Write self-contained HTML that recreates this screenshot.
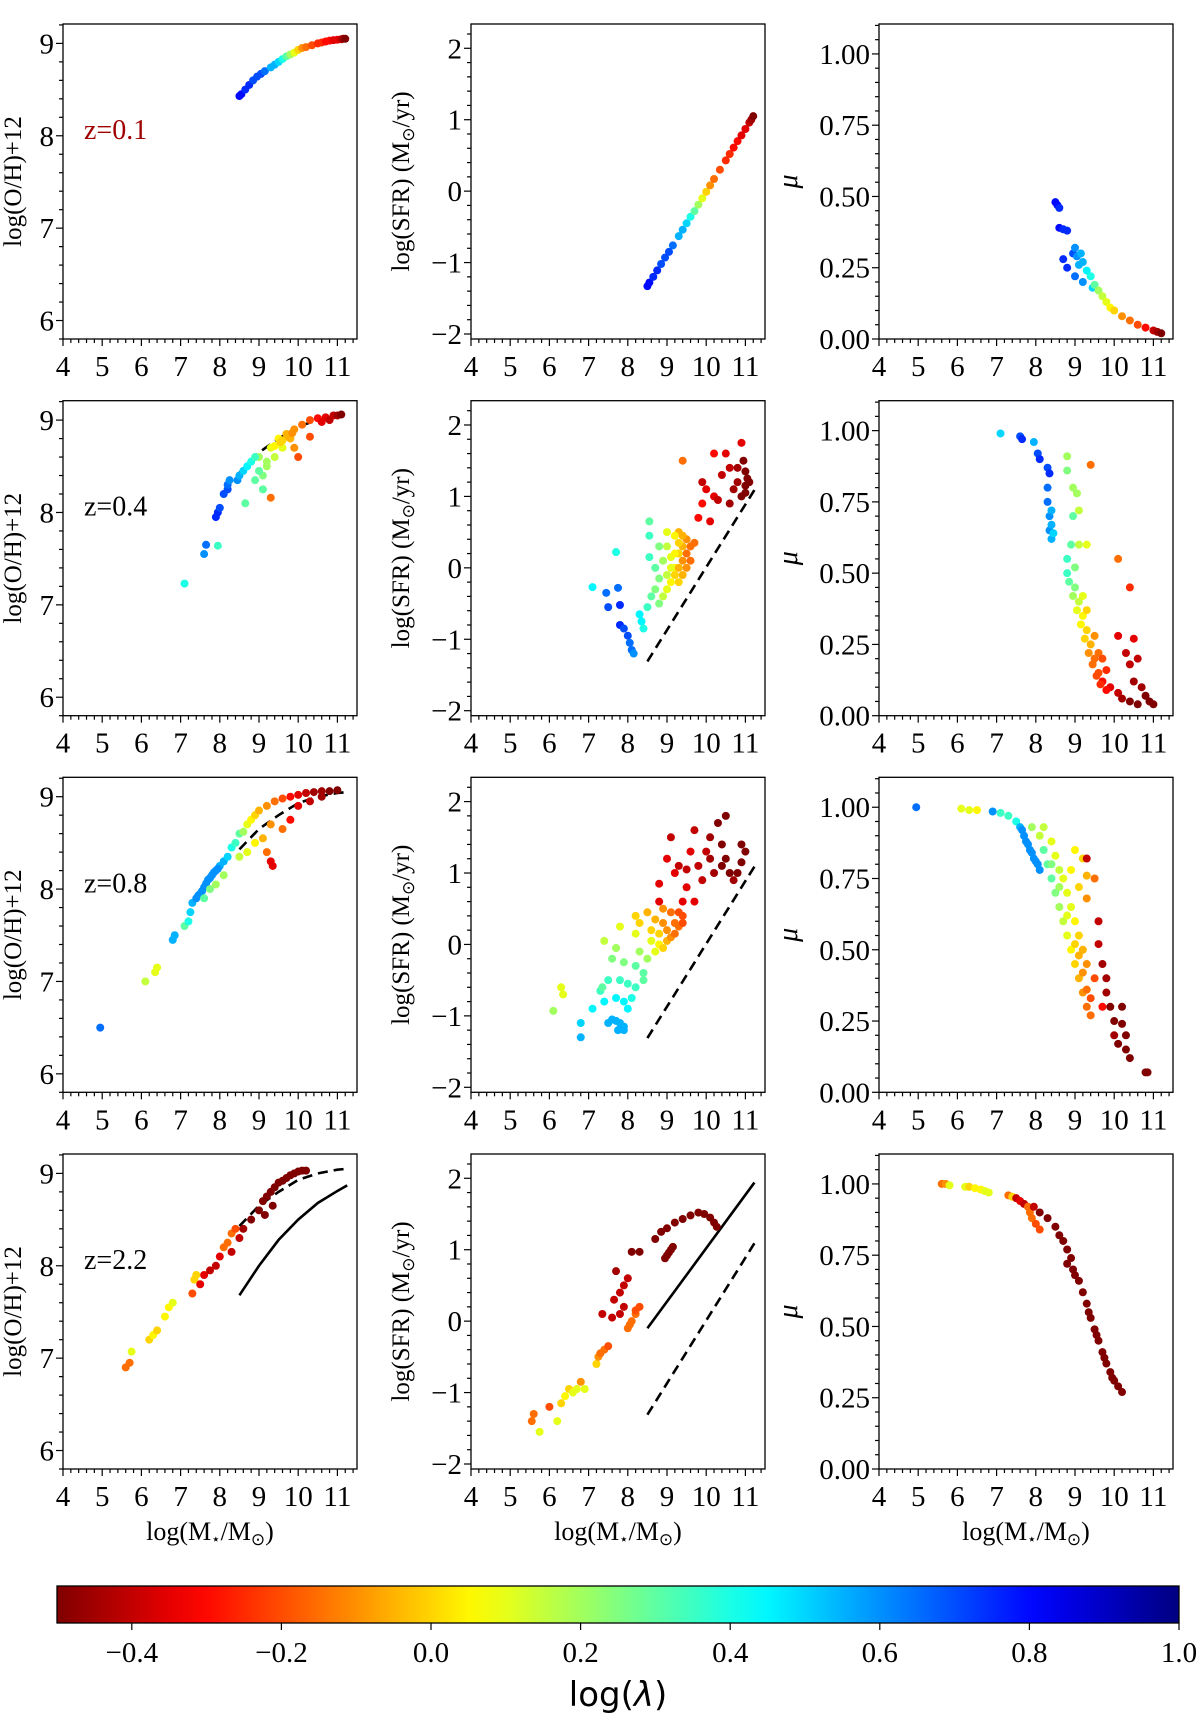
<!DOCTYPE html>
<html><head><meta charset="utf-8"><style>
html,body{margin:0;padding:0;background:#fff;}
svg{display:block;}
text{font-family:"Liberation Serif",serif;fill:#000;}
</style></head><body>
<svg id="fig" width="1200" height="1724" viewBox="0 0 1200 1724" xmlns="http://www.w3.org/2000/svg"></svg>
<script>
// ---- data: [logMass, value, logLambda] ----
const oh_z01=[[8.5,8.43,0.8],[8.55,8.45,0.8],[8.65,8.5,0.75],[8.75,8.55,0.75],[8.85,8.6,0.7],[8.95,8.64,0.7],[9.05,8.67,0.7],[9.15,8.7,0.65],[9.3,8.74,0.55],[9.4,8.77,0.55],[9.5,8.8,0.5],[9.6,8.83,0.4],[9.7,8.86,0.3],[9.8,8.88,0.2],[9.9,8.9,0.1],[10.0,8.93,0.0],[10.1,8.95,-0.1],[10.2,8.96,-0.15],[10.35,8.98,-0.2],[10.5,9.0,-0.25],[10.6,9.01,-0.25],[10.7,9.02,-0.3],[10.8,9.03,-0.3],[10.9,9.035,-0.35],[11.0,9.04,-0.35],[11.1,9.045,-0.4],[11.15,9.05,-0.45],[11.2,9.05,-0.5]];
const sfr_z01=[[8.5,-1.33,0.8],[8.55,-1.28,0.8],[8.65,-1.2,0.75],[8.75,-1.11,0.75],[8.85,-1.02,0.7],[8.95,-0.93,0.7],[9.05,-0.85,0.7],[9.15,-0.76,0.65],[9.3,-0.63,0.55],[9.4,-0.54,0.55],[9.5,-0.45,0.5],[9.6,-0.36,0.4],[9.7,-0.28,0.3],[9.8,-0.19,0.2],[9.9,-0.1,0.1],[10.0,-0.01,0.0],[10.1,0.08,-0.1],[10.2,0.17,-0.15],[10.35,0.3,-0.2],[10.5,0.43,-0.25],[10.6,0.52,-0.25],[10.7,0.61,-0.3],[10.8,0.7,-0.3],[10.9,0.78,-0.35],[11.0,0.87,-0.35],[11.1,0.96,-0.4],[11.15,1.0,-0.45],[11.2,1.05,-0.5]];
const mu_z01=[[8.5,0.48,0.8],[8.55,0.47,0.8],[8.6,0.46,0.75],[8.6,0.39,0.8],[8.7,0.385,0.75],[8.8,0.38,0.75],[8.7,0.28,0.75],[8.8,0.25,0.75],[8.95,0.3,0.7],[9.0,0.32,0.6],[9.05,0.29,0.6],[9.1,0.26,0.55],[9.15,0.3,0.55],[9.2,0.27,0.55],[9.3,0.24,0.45],[9.4,0.22,0.4],[9.45,0.18,0.5],[9.5,0.19,0.3],[9.6,0.17,0.2],[9.7,0.15,0.15],[9.8,0.13,0.1],[9.9,0.11,0.05],[10.0,0.1,0.0],[10.2,0.08,-0.1],[10.4,0.065,-0.15],[10.6,0.05,-0.2],[10.8,0.04,-0.3],[11.0,0.03,-0.4],[11.1,0.025,-0.45],[11.2,0.02,-0.5],[9.0,0.22,0.65],[9.2,0.2,0.6]];

const oh_z04=[[7.1,7.23,0.4],[7.6,7.55,0.6],[7.65,7.65,0.65],[7.95,7.64,0.35],[7.9,7.95,0.75],[7.95,8.0,0.75],[8.0,8.05,0.7],[8.1,8.2,0.7],[8.2,8.25,0.7],[8.2,8.3,0.65],[8.25,8.35,0.6],[8.45,8.35,0.6],[8.5,8.4,0.55],[8.6,8.45,0.5],[8.65,8.1,0.3],[8.7,8.5,0.45],[8.8,8.55,0.4],[8.9,8.35,0.3],[9.0,8.6,0.2],[9.1,8.4,0.25],[9.2,8.5,0.2],[9.3,8.7,0.1],[9.3,8.16,-0.15],[9.5,8.8,0.05],[9.7,8.85,-0.05],[9.9,8.9,-0.1],[10.1,8.95,-0.15],[10.3,9.0,-0.2],[10.5,9.02,-0.3],[10.7,9.03,-0.35],[10.9,9.05,-0.4],[11.0,9.05,-0.45],[11.1,9.06,-0.5],[9.6,8.7,0.1],[9.4,8.6,0.15],[9.9,8.7,-0.1],[10.0,8.6,-0.2],[10.3,8.82,-0.2],[9.2,8.55,0.2],[9.0,8.45,0.3],[8.9,8.6,0.35],[9.1,8.25,0.3],[9.6,8.78,0.0],[9.8,8.8,-0.05],[10.6,8.98,-0.35],[10.8,9.0,-0.4],[9.4,8.72,0.05],[9.55,8.76,0.0],[9.75,8.82,-0.05],[9.85,8.86,-0.1]];
const sfr_z04=[[7.1,-0.27,0.45],[7.45,-0.35,0.65],[7.5,-0.55,0.7],[7.75,-0.28,0.65],[7.8,-0.52,0.75],[7.8,-0.8,0.75],[7.9,-0.85,0.7],[8.0,-0.95,0.7],[8.05,-1.05,0.65],[8.1,-1.15,0.65],[8.15,-1.2,0.6],[7.7,0.22,0.4],[8.3,-0.65,0.45],[8.35,-0.75,0.45],[8.4,-0.85,0.4],[8.5,-0.55,0.35],[8.6,-0.4,0.3],[8.55,0.45,0.35],[8.55,0.65,0.3],[8.55,0.15,0.35],[8.7,0.0,0.3],[8.8,-0.15,0.25],[8.9,0.1,0.2],[9.0,0.3,0.15],[9.1,0.15,0.1],[9.2,0.0,0.05],[9.3,0.2,0.0],[9.4,0.3,-0.05],[9.5,0.4,-0.1],[9.3,0.5,-0.05],[8.9,-0.4,0.15],[9.0,-0.3,0.1],[9.1,-0.2,0.05],[9.2,-0.1,0.0],[9.3,0.0,-0.05],[9.4,0.1,-0.1],[9.5,0.2,-0.15],[9.6,0.3,-0.15],[8.8,0.3,0.25],[9.0,0.5,0.1],[9.2,0.45,0.05],[8.7,-0.3,0.25],[8.8,-0.5,0.25],[9.0,-0.1,0.15],[9.1,0.0,0.1],[9.2,0.2,0.05],[9.3,0.35,0.0],[9.4,0.45,-0.05],[9.5,0.0,-0.1],[9.6,0.1,-0.15],[9.7,0.35,-0.15],[9.4,-0.1,-0.05],[9.3,-0.2,0.0],[9.4,1.5,-0.15],[9.8,0.7,-0.3],[9.9,0.9,-0.3],[10.0,1.1,-0.35],[10.2,1.0,-0.35],[10.4,1.3,-0.4],[10.5,1.6,-0.35],[10.6,1.4,-0.4],[10.8,1.2,-0.45],[10.9,1.0,-0.5],[11.0,1.35,-0.5],[11.1,1.2,-0.5],[10.9,1.75,-0.35],[10.2,1.6,-0.3],[9.9,1.2,-0.4],[10.3,0.95,-0.4],[10.6,0.9,-0.45],[11.0,1.05,-0.5],[10.1,0.65,-0.35],[10.95,1.5,-0.5],[11.05,1.25,-0.5],[10.7,1.1,-0.45],[10.8,1.4,-0.45],[11.0,1.15,-0.5]];
const mu_z04=[[7.1,0.99,0.5],[7.6,0.98,0.7],[7.65,0.97,0.75],[7.95,0.96,0.55],[8.05,0.92,0.7],[8.1,0.9,0.75],[8.3,0.87,0.7],[8.35,0.85,0.75],[8.3,0.8,0.65],[8.3,0.75,0.65],[8.35,0.7,0.6],[8.35,0.65,0.6],[8.4,0.62,0.55],[8.4,0.67,0.55],[8.8,0.91,0.2],[8.8,0.86,0.25],[8.95,0.8,0.2],[9.05,0.78,0.2],[9.1,0.72,0.15],[8.95,0.7,0.3],[9.4,0.88,-0.15],[9.1,0.6,0.15],[9.3,0.6,0.1],[8.8,0.55,0.35],[8.8,0.5,0.35],[9.0,0.45,0.25],[9.1,0.4,0.15],[9.2,0.35,0.05],[9.3,0.3,0.0],[9.4,0.25,-0.05],[9.5,0.2,-0.15],[9.6,0.15,-0.2],[9.7,0.12,-0.3],[9.9,0.1,-0.35],[10.1,0.08,-0.4],[10.2,0.06,-0.45],[10.4,0.05,-0.5],[10.6,0.04,-0.5],[10.1,0.55,-0.15],[10.1,0.28,-0.35],[10.3,0.22,-0.4],[10.4,0.18,-0.4],[10.5,0.27,-0.35],[10.6,0.2,-0.4],[10.5,0.12,-0.45],[10.7,0.1,-0.45],[10.8,0.07,-0.5],[10.9,0.05,-0.5],[11.0,0.04,-0.5],[10.4,0.45,-0.25],[8.9,0.6,0.3],[9.0,0.52,0.25],[9.2,0.42,0.1],[9.3,0.37,0.0],[9.5,0.28,-0.1],[9.6,0.22,-0.15],[8.85,0.47,0.3],[8.95,0.42,0.2],[9.05,0.37,0.1],[9.15,0.32,0.05],[9.25,0.27,0.0],[9.35,0.22,-0.1],[9.45,0.18,-0.15],[9.55,0.14,-0.2],[9.65,0.11,-0.25],[9.8,0.09,-0.3],[9.7,0.2,-0.2],[9.8,0.16,-0.25],[8.4,0.72,0.55],[8.45,0.64,0.5]];

const oh_z08=[[4.95,6.5,0.65],[6.1,7.0,0.15],[6.35,7.1,0.1],[6.4,7.15,0.1],[6.8,7.45,0.55],[6.85,7.5,0.55],[7.1,7.6,0.3],[7.2,7.65,0.4],[7.25,7.75,0.5],[7.3,7.85,0.55],[7.4,7.9,0.6],[7.5,7.95,0.6],[7.6,8.02,0.6],[7.7,8.1,0.6],[7.8,8.15,0.6],[7.9,8.2,0.6],[8.0,8.25,0.55],[8.1,8.3,0.55],[8.2,8.35,0.5],[7.45,7.93,0.6],[7.55,7.98,0.6],[7.65,8.06,0.6],[7.75,8.12,0.6],[7.85,8.18,0.6],[7.95,8.22,0.6],[7.6,7.9,0.3],[7.75,8.0,0.25],[7.9,8.05,0.2],[8.1,8.15,0.2],[8.3,8.45,0.4],[8.4,8.5,0.35],[8.5,8.6,0.3],[8.6,8.62,0.2],[8.7,8.7,0.1],[8.8,8.75,0.05],[8.9,8.8,0.0],[9.0,8.85,-0.05],[9.2,8.9,-0.1],[9.4,8.95,-0.15],[9.6,8.98,-0.2],[9.8,9.0,-0.3],[10.0,9.02,-0.35],[10.2,9.04,-0.4],[10.4,9.05,-0.45],[10.6,9.06,-0.45],[10.8,9.06,-0.5],[11.0,9.07,-0.5],[8.5,8.35,0.15],[8.7,8.4,0.1],[8.9,8.5,0.05],[9.1,8.55,-0.05],[9.2,8.4,-0.15],[9.3,8.3,-0.35],[9.35,8.25,-0.35],[9.6,8.65,-0.15],[9.8,8.75,-0.3],[10.0,8.9,-0.35],[10.3,8.95,-0.4],[10.6,9.0,-0.45],[9.3,8.7,-0.1]];
const sfr_z08=[[6.3,-0.6,0.1],[6.35,-0.7,0.1],[6.1,-0.93,0.2],[6.8,-1.3,0.55],[6.8,-1.1,0.5],[7.1,-0.9,0.45],[7.3,-0.65,0.35],[7.35,-0.6,0.3],[7.5,-1.1,0.55],[7.6,-1.05,0.55],[7.7,-1.07,0.55],[7.8,-1.1,0.55],[7.9,-1.15,0.55],[7.75,-1.2,0.55],[7.9,-1.2,0.55],[7.4,-0.8,0.45],[7.7,-0.75,0.45],[7.9,-0.8,0.45],[8.0,-0.9,0.45],[7.5,-0.5,0.35],[7.8,-0.5,0.35],[8.0,-0.55,0.35],[8.2,-0.6,0.35],[7.6,-0.2,0.25],[7.9,-0.25,0.25],[8.2,-0.3,0.3],[8.4,-0.4,0.3],[7.4,0.05,0.15],[7.7,-0.05,0.2],[8.3,-0.1,0.2],[8.5,-0.2,0.2],[7.8,0.25,0.1],[8.2,0.15,0.1],[8.6,0.05,0.1],[8.8,0.0,0.05],[8.2,0.4,0.0],[8.5,0.45,-0.05],[8.7,0.35,-0.05],[8.9,0.3,-0.1],[9.0,0.2,-0.1],[8.6,0.2,0.0],[9.1,0.45,-0.15],[9.3,0.45,-0.2],[9.4,0.4,-0.2],[8.9,0.5,-0.1],[9.2,0.3,-0.15],[8.8,0.15,0.0],[9.0,0.05,-0.05],[9.1,0.1,-0.1],[9.2,0.15,-0.15],[9.3,0.25,-0.15],[8.9,-0.05,0.0],[8.7,-0.1,0.1],[8.4,-0.5,0.3],[8.1,-0.75,0.4],[8.3,0.3,0.0],[9.4,0.3,-0.2],[8.8,0.6,-0.35],[8.8,0.85,-0.35],[9.0,1.2,-0.35],[9.1,1.5,-0.4],[9.2,1.0,-0.35],[9.5,0.8,-0.35],[9.5,1.05,-0.4],[9.6,1.3,-0.35],[9.7,0.6,-0.35],[9.7,1.6,-0.4],[9.8,1.1,-0.4],[9.9,0.9,-0.4],[10.0,1.3,-0.4],[10.1,1.5,-0.45],[10.1,1.2,-0.45],[10.2,1.0,-0.45],[10.3,1.7,-0.5],[10.4,1.4,-0.5],[10.4,1.1,-0.5],[10.5,1.8,-0.5],[10.5,1.2,-0.5],[10.6,1.0,-0.5],[10.9,1.4,-0.5],[11.0,1.3,-0.5],[10.9,1.15,-0.5],[10.8,1.0,-0.5],[10.7,0.9,-0.45],[9.3,1.1,-0.4],[9.4,0.6,-0.35]];
const mu_z08=[[4.95,1.0,0.65],[6.1,0.995,0.1],[6.3,0.99,0.1],[6.5,0.99,0.05],[6.9,0.985,0.6],[7.1,0.98,0.35],[7.3,0.97,0.35],[7.5,0.95,0.4],[7.6,0.93,0.55],[7.7,0.9,0.6],[7.8,0.87,0.6],[7.9,0.84,0.6],[8.0,0.81,0.6],[8.1,0.78,0.6],[7.65,0.92,0.6],[7.75,0.88,0.6],[7.85,0.85,0.6],[7.95,0.82,0.6],[8.05,0.8,0.6],[7.9,0.93,0.2],[8.1,0.9,0.15],[8.2,0.85,0.3],[8.3,0.8,0.3],[8.4,0.75,0.3],[8.2,0.93,0.15],[8.4,0.88,0.1],[8.5,0.83,0.1],[8.6,0.78,0.15],[8.5,0.7,0.25],[8.6,0.65,0.2],[8.7,0.6,0.15],[8.8,0.55,0.1],[8.9,0.5,0.05],[9.0,0.45,0.0],[9.1,0.4,-0.05],[9.2,0.35,-0.1],[9.3,0.3,-0.15],[9.4,0.27,-0.15],[8.8,0.7,0.1],[8.9,0.65,0.1],[9.0,0.6,0.05],[9.1,0.55,0.0],[9.2,0.5,-0.05],[9.3,0.45,-0.1],[8.7,0.75,0.1],[8.9,0.78,0.05],[9.1,0.72,0.0],[9.3,0.68,-0.1],[9.0,0.85,0.05],[9.2,0.82,0.0],[9.3,0.76,-0.05],[8.4,0.8,0.25],[8.6,0.72,0.2],[8.8,0.62,0.1],[9.0,0.52,0.0],[9.2,0.42,-0.1],[9.3,0.36,-0.15],[9.1,0.48,-0.05],[9.4,0.33,-0.2],[9.3,0.82,-0.4],[9.5,0.75,-0.15],[9.6,0.6,-0.4],[9.6,0.52,-0.4],[9.7,0.45,-0.45],[9.8,0.4,-0.45],[9.8,0.35,-0.45],[9.9,0.3,-0.5],[10.0,0.25,-0.5],[10.0,0.2,-0.45],[10.1,0.17,-0.5],[10.2,0.3,-0.5],[10.2,0.24,-0.5],[10.3,0.2,-0.5],[10.3,0.15,-0.5],[10.4,0.12,-0.5],[10.8,0.07,-0.5],[10.85,0.07,-0.5],[9.7,0.3,-0.3],[9.5,0.4,-0.2]];

const oh_z22=[[5.6,6.9,-0.15],[5.7,6.95,-0.15],[5.75,7.07,0.1],[6.2,7.2,0.0],[6.3,7.25,0.05],[6.4,7.3,0.0],[6.6,7.45,0.05],[6.7,7.55,0.05],[6.8,7.6,0.1],[7.3,7.7,-0.2],[7.35,7.85,0.0],[7.4,7.9,0.0],[7.5,7.8,-0.35],[7.6,7.9,-0.35],[7.75,7.95,-0.4],[7.9,8.0,-0.4],[8.0,8.1,-0.35],[8.1,8.2,-0.15],[8.2,8.25,-0.15],[8.3,8.35,-0.15],[8.4,8.4,-0.2],[8.3,8.15,-0.4],[8.5,8.3,-0.4],[8.6,8.4,-0.45],[8.8,8.5,-0.5],[9.0,8.6,-0.5],[9.1,8.7,-0.5],[9.2,8.75,-0.5],[9.3,8.8,-0.5],[9.4,8.85,-0.5],[9.5,8.9,-0.5],[9.6,8.92,-0.5],[9.7,8.95,-0.5],[9.8,8.98,-0.5],[9.9,9.0,-0.5],[10.0,9.02,-0.5],[10.1,9.03,-0.5],[10.2,9.03,-0.5],[9.35,8.65,-0.5],[9.15,8.55,-0.5]];
const sfr_z22=[[5.55,-1.4,-0.15],[5.6,-1.3,-0.15],[5.75,-1.55,0.1],[6.0,-1.2,-0.2],[6.2,-1.4,0.1],[6.3,-1.15,0.0],[6.4,-1.05,0.05],[6.5,-0.95,0.0],[6.6,-1.0,0.1],[6.7,-0.95,0.1],[6.9,-0.95,0.1],[6.8,-0.85,-0.1],[7.2,-0.6,0.0],[7.25,-0.5,-0.1],[7.4,-0.4,-0.15],[7.3,-0.45,-0.15],[7.5,-0.35,-0.2],[7.35,0.1,-0.4],[7.6,0.05,-0.4],[7.8,0.1,-0.4],[7.9,0.2,-0.4],[7.65,0.3,-0.4],[7.8,0.4,-0.4],[7.9,0.5,-0.4],[8.0,0.6,-0.4],[7.7,0.7,-0.45],[8.0,-0.1,-0.15],[8.05,-0.05,-0.15],[8.1,0.0,-0.15],[8.2,0.1,-0.15],[8.3,0.2,-0.2],[8.2,0.15,-0.2],[8.3,0.97,-0.5],[8.7,1.15,-0.5],[8.85,1.25,-0.5],[9.0,1.3,-0.5],[9.2,1.38,-0.5],[9.4,1.43,-0.5],[9.6,1.48,-0.5],[9.8,1.52,-0.5],[9.95,1.5,-0.5],[10.1,1.45,-0.5],[10.2,1.38,-0.5],[10.27,1.32,-0.5],[8.95,0.88,-0.5],[9.0,0.92,-0.5],[9.05,0.96,-0.5],[9.1,1.0,-0.5],[9.15,1.04,-0.5],[8.1,0.97,-0.5]];
const mu_z22=[[5.6,1.0,-0.15],[5.7,1.0,-0.1],[5.8,0.995,0.1],[6.2,0.99,0.1],[6.3,0.99,0.0],[6.45,0.985,0.05],[6.6,0.98,0.05],[6.7,0.975,0.1],[6.8,0.97,0.1],[7.3,0.96,-0.15],[7.4,0.955,0.0],[7.5,0.95,-0.4],[7.6,0.94,-0.35],[7.7,0.93,-0.4],[7.8,0.92,-0.15],[7.85,0.9,-0.15],[7.9,0.88,-0.15],[8.0,0.86,-0.2],[8.1,0.84,-0.2],[7.95,0.92,-0.4],[8.1,0.9,-0.5],[8.3,0.88,-0.5],[8.5,0.85,-0.5],[8.6,0.82,-0.5],[8.7,0.8,-0.5],[8.8,0.77,-0.5],[8.9,0.74,-0.5],[8.95,0.7,-0.5],[9.1,0.66,-0.5],[9.2,0.62,-0.5],[9.3,0.58,-0.5],[9.4,0.53,-0.5],[9.5,0.49,-0.5],[9.6,0.45,-0.5],[9.7,0.41,-0.5],[9.8,0.37,-0.5],[9.9,0.34,-0.5],[10.0,0.31,-0.5],[10.1,0.29,-0.5],[10.2,0.27,-0.5],[8.8,0.72,-0.5],[9.0,0.68,-0.5],[9.35,0.55,-0.5],[9.55,0.47,-0.5],[9.75,0.39,-0.5],[9.95,0.32,-0.5]];

// reference relations
const mzrMass=[8.5,9.0,9.5,10.0,10.5,11.0,11.25];
const mzrLocal=[8.43,8.65,8.8,8.93,9.0,9.04,9.05];
const mzrHighz=[7.68,8.0,8.28,8.5,8.68,8.81,8.87];
const msMass=[8.5,11.23];
const msLocal=[-1.31,1.09];
const msHighz=[-0.1,1.94];

const redshiftLabels=["z=0.1","z=0.4","z=0.8","z=2.2"];
const xTicks=[4,5,6,7,8,9,10,11];
const ohTicks=[6,7,8,9];
const sfrTicks=[-2,-1,0,1,2];
const muTicks=[0,0.25,0.5,0.75,1.0];
const muTickLabels=["0.00","0.25","0.50","0.75","1.00"];
const cbTicks=[-0.4,-0.2,0.0,0.2,0.4,0.6,0.8,1.0];
const cbTickLabels=["\u22120.4","\u22120.2","0.0","0.2","0.4","0.6","0.8","1.0"];

const NS="http://www.w3.org/2000/svg";
const svg=document.getElementById('fig');
function mk(tag,attrs,parent){const e=document.createElementNS(NS,tag);for(const k in attrs)e.setAttribute(k,attrs[k]);(parent||svg).appendChild(e);return e;}
function jet(c){let t=1-(c+0.5)/1.5;t=Math.max(0,Math.min(1,t));const cl=v=>Math.max(0,Math.min(1,v));
 const r=cl(1.5-Math.abs(4*t-3)),g=cl(1.5-Math.abs(4*t-2)),b=cl(1.5-Math.abs(4*t-1));
 return `rgb(${Math.round(r*255)},${Math.round(g*255)},${Math.round(b*255)})`;}

const colL=[63,471,879], W=294, H=315;
const rowT=[24,400.7,777.3,1154];
const xlim=[4,11.5];
const ylims=[[5.8,9.21],[-2.07,2.34],[0,1.105]];
const yMinor=[0.2,0.2,0.05];
const datasets=[[oh_z01,sfr_z01,mu_z01],[oh_z04,sfr_z04,mu_z04],[oh_z08,sfr_z08,mu_z08],[oh_z22,sfr_z22,mu_z22]];

for(let r=0;r<4;r++){for(let c=0;c<3;c++){
 const L=colL[c],T=rowT[r],yl=ylims[c];
 const X=v=>L+(v-xlim[0])/(xlim[1]-xlim[0])*W;
 const Y=v=>T+H-(v-yl[0])/(yl[1]-yl[0])*H;
 const g=mk('g',{});
 
 
 for(let v=4;v<=11.5001;v+=0.2){const maj=Math.abs(v-Math.round(v))<1e-6;
  mk('line',{x1:X(v),x2:X(v),y1:T+H,y2:T+H+(maj?7:4),stroke:'#000','stroke-width':1.2},g);}
 xTicks.forEach(v=>{const t=mk('text',{x:X(v),y:T+H+37,'font-size':29,'text-anchor':'middle'},g);t.textContent=v;
  });
 const ticks=c==0?ohTicks:c==1?sfrTicks:muTicks;
 const step=yMinor[c];
 for(let v=Math.ceil(yl[0]/step)*step;v<=yl[1]+1e-9;v+=step){
  const maj=ticks.some(t=>Math.abs(t-v)<1e-6);
  mk('line',{x1:L,x2:L-(maj?7:4),y1:Y(v),y2:Y(v),stroke:'#000','stroke-width':1.2},g);}
 ticks.forEach((v,i)=>{const t=mk('text',{x:L-9,y:Y(v)+10,'font-size':29,'text-anchor':'end'},g);
  t.textContent=c==2?muTickLabels[i]:(v<0?'\u2212'+(-v):v);
  });
 const line=(xs,ys,dash)=>mk('polyline',{points:xs.map((x,i)=>X(x)+','+Y(ys[i])).join(' '),fill:'none',stroke:'#000','stroke-width':2.6,'stroke-dasharray':dash?'10,6':'none'},g);
 if(c==0&&r>0){const p=line(mzrMass,mzrLocal,true);}
 if(c==0&&r==3){const p=line(mzrMass,mzrHighz,false);}
 if(c==1&&r>0){const p=line(msMass,msLocal,true);}
 if(c==1&&r==3){const p=line(msMass,msHighz,false);}
 datasets[r][c].forEach(d=>{const e=mk('circle',{cx:X(d[0]),cy:Y(d[1]),r:4,fill:jet(d[2])},g);
  });
 const f=mk('rect',{x:L,y:T,width:W,height:H,fill:'none',stroke:'#000','stroke-width':1.3},g);
 
 if(c==0){const t=mk('text',{x:0,y:0,'font-size':25,'text-anchor':'middle',transform:`translate(21,${T+H/2}) rotate(-90)`},g);t.textContent='log(O/H)+12';
  
  const z=mk('text',{x:84,y:T+115,'font-size':28},g);z.textContent=redshiftLabels[r];
  z.style.fill=r==0?'#a00000':'#000';
  }
 if(c==1){const t=mk('text',{x:0,y:0,'font-size':25,'text-anchor':'middle',transform:`translate(409,${T+H/2}) rotate(-90)`},g);t.innerHTML='log(SFR) (M<tspan font-size="17" dy="5">\u2299</tspan><tspan dy="-5">/yr)</tspan>';
  }
 if(c==2){const t=mk('text',{x:0,y:0,'font-size':28,'font-style':'italic','text-anchor':'middle',transform:`translate(797,${T+H/2}) rotate(-90)`},g);t.textContent='\u03bc';
  }
 if(r==3){const t=mk('text',{x:L+W/2,y:1540,'font-size':26,'text-anchor':'middle'},g);t.innerHTML='log(M<tspan font-size="15" dy="4">\u22c6</tspan><tspan dy="-4">/M</tspan><tspan font-size="17" dy="5">\u2299</tspan><tspan dy="-5">)</tspan>';
  }
}}

const defs=mk('defs',{});
const grad=mk('linearGradient',{id:'jetg',x1:0,x2:1,y1:0,y2:0},defs);
for(let i=0;i<=30;i++){const c=-0.5+1.5*i/30;mk('stop',{offset:i/30,'stop-color':jet(c)},grad);}
const cbL=57,cbR=1179,cbT=1586,cbB=1623;
const CX=v=>cbL+(v+0.5)/1.5*(cbR-cbL);
const cb=mk('rect',{x:cbL,y:cbT,width:cbR-cbL,height:cbB-cbT,fill:'url(#jetg)',stroke:'#000','stroke-width':1.3});

cbTicks.forEach((v,i)=>{mk('line',{x1:CX(v),x2:CX(v),y1:cbB,y2:cbB+7,stroke:'#000','stroke-width':1.2});
 const t=mk('text',{x:CX(v),y:cbB+39,'font-size':29,'text-anchor':'middle'});t.textContent=cbTickLabels[i];
 });
const cbl=mk('text',{x:(cbL+cbR)/2,y:1706,'font-size':34,'text-anchor':'middle'});
cbl.style.fontFamily='"DejaVu Sans",sans-serif';
cbl.innerHTML='log(<tspan font-style="italic">\u03bb</tspan>)';

</script>
</body></html>
